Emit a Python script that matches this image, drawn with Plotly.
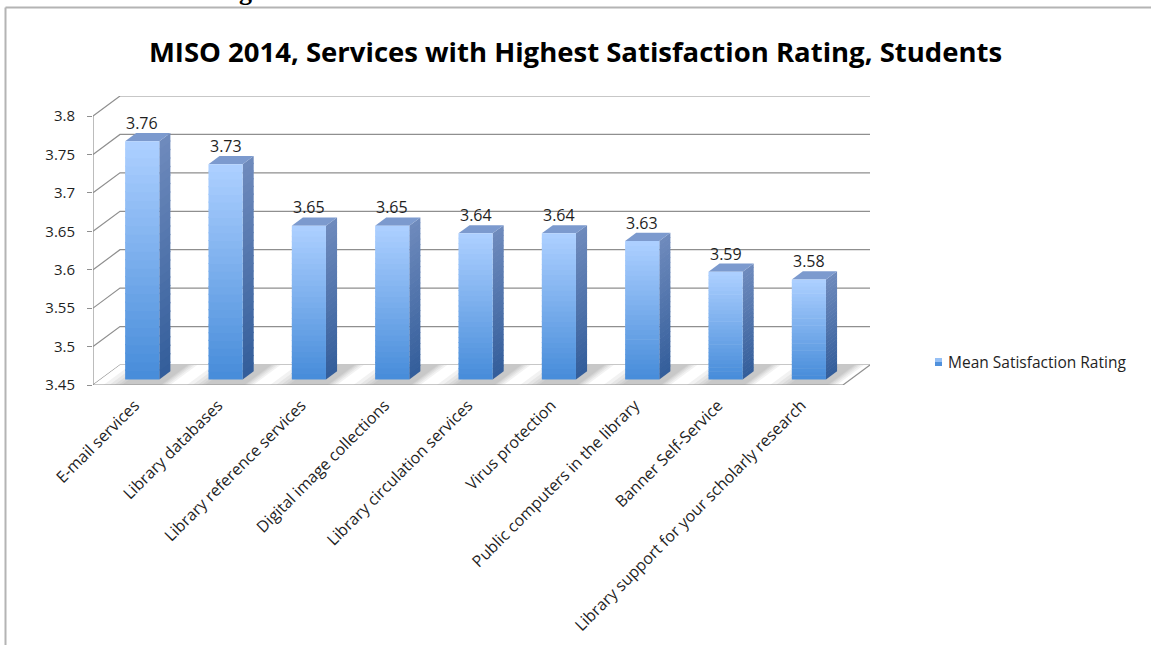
import plotly.graph_objects as go

# ---- data -------------------------------------------------------------
categories = [
    "E-mail services",
    "Library databases",
    "Library reference services",
    "Digital image collections",
    "Library circulation services",
    "Virus protection",
    "Public computers in the library",
    "Banner Self-Service",
    "Library support for your scholarly research",
]
mean_rating = [3.76, 3.73, 3.65, 3.65, 3.64, 3.64, 3.63, 3.59, 3.58]
tick_values = [3.45, 3.5, 3.55, 3.6, 3.65, 3.7, 3.75, 3.8]
tick_text = ["3.45", "3.5", "3.55", "3.6", "3.65", "3.7", "3.75", "3.8"]
series_name = "Mean Satisfaction Rating"
title_text = "MISO 2014, Services with Highest Satisfaction Rating, Students"

# ---- geometry of the pseudo-3D frame ---------------------------------
W, H = 1151, 645
L, R, T, B = 93, 870, 96, 385           # plot area in pixels
Y0, Y1 = tick_values[0], tick_values[-1]
n = len(categories)
px_x = (R - 27 - L) / n                 # pixels per category
px_y = (B - 116) / (Y1 - Y0)            # pixels per rating unit
DX, DY = 27 / px_x, 20 / px_y           # wall depth in data units
X_MIN, X_MAX = -0.5, n - 0.5

FRONT = 0.28                            # depth position of the bar front face
BAR_D = 0.41                            # bar depth as share of wall depth
HALF_W = 0.205                          # half width of a bar
fx, fy = FRONT * DX, FRONT * DY
bx, by = BAR_D * DX, BAR_D * DY

GRID = "#8f8f8f"
TEXT = "#1f1f1f"
FONT = "Open Sans"


def mix(c0, c1, t):
    return "rgb(%d,%d,%d)" % tuple(round(a + (b - a) * t) for a, b in zip(c0, c1))


def px2paper_x(px):
    return (px - L) / (R - L)


def px2paper_y(py):
    return (B - py) / (B - T)


shapes = []

# back wall grid lines with their diagonal run to the front axis
for v in tick_values:
    shapes.append(dict(type="path", xref="x", yref="y", layer="below",
                       path=f"M{X_MIN},{v} L{X_MIN + DX},{v + DY} L{X_MAX + DX},{v + DY}",
                       line=dict(color=GRID, width=1.2)))

# floor
floor_path = (f"M{X_MIN},{Y0} L{X_MAX},{Y0} L{X_MAX + DX},{Y0 + DY} "
              f"L{X_MIN + DX},{Y0 + DY} Z")
shapes.append(dict(type="path", xref="x", yref="y", layer="below", path=floor_path,
                   fillcolor="white", line=dict(width=0)))
shapes.append(dict(type="line", xref="x", yref="y", layer="below",
                   x0=X_MAX, y0=Y0, x1=X_MAX + DX, y1=Y0 + DY,
                   line=dict(color=GRID, width=1.2)))

# soft shadows on the floor around each bar base
for i in range(n):
    c = i + fx
    for spread in [0.26, 0.19, 0.13, 0.08, 0.04]:
        xa, xb = c - HALF_W - spread, c + HALF_W + spread * 0.5
        shapes.append(dict(type="path", xref="x", yref="y", layer="below",
                           path=(f"M{xa},{Y0} L{xb},{Y0} L{xb + DX},{Y0 + DY} "
                                 f"L{xa + DX},{Y0 + DY} Z"),
                           fillcolor="rgba(110,110,110,0.09)", line=dict(width=0)))

# front axis lines and category boundary ticks
shapes.append(dict(type="line", xref="x", yref="y", x0=X_MIN, y0=Y0, x1=X_MAX, y1=Y0,
                   line=dict(color=GRID, width=1.2)))
shapes.append(dict(type="line", xref="x", yref="y", x0=X_MIN, y0=Y0, x1=X_MIN, y1=Y1,
                   line=dict(color=GRID, width=1.2)))
for i in range(n + 1):
    shapes.append(dict(type="line", xref="x", yref="y", ysizemode="pixel", yanchor=Y0,
                       x0=X_MIN + i, x1=X_MIN + i, y0=0, y1=-5,
                       line=dict(color=GRID, width=1.2)))

# bar sides (gradient slices) and tops
N = 28
side_lo, side_hi = (52, 94, 155), (110, 138, 188)
for i, v in enumerate(mean_rating):
    c = i + fx
    xr = c + HALF_W
    ya, yb = Y0 + fy, v + fy
    for k in range(N):
        s0 = ya + (yb - ya) * k / N
        s1 = min(ya + (yb - ya) * (k + 1.15) / N, yb)
        shapes.append(dict(type="path", xref="x", yref="y", layer="below",
                           path=(f"M{xr},{s0} L{xr},{s1} L{xr + bx},{s1 + by} "
                                 f"L{xr + bx},{s0 + by} Z"),
                           fillcolor=mix(side_lo, side_hi, k / (N - 1)),
                           line=dict(width=0)))
    xl = c - HALF_W
    shapes.append(dict(type="path", xref="x", yref="y", layer="below",
                       path=(f"M{xl},{yb} L{xr},{yb} L{xr + bx},{yb + by} "
                             f"L{xl + bx},{yb + by} Z"),
                       fillcolor="rgb(124,154,206)", line=dict(width=0)))

# bar fronts as stacked gradient slices
front_lo, front_hi = (72, 141, 218), (172, 207, 255)
xs, bases, heights, colors = [], [], [], []
for i, v in enumerate(mean_rating):
    c = i + fx
    ya, yb = Y0 + fy, v + fy
    h = (yb - ya) / N
    for k in range(N):
        xs.append(c)
        bases.append(ya + h * k)
        heights.append(h * 1.15 if k < N - 1 else h)
        colors.append(mix(front_lo, front_hi, k / (N - 1)))

fig = go.Figure()
fig.add_trace(go.Bar(x=xs, y=heights, base=bases, width=2 * HALF_W,
                     marker=dict(color=colors, line=dict(width=0)),
                     showlegend=False, hoverinfo="skip"))
# category axis carrier (labels at bar centres)
fig.add_trace(go.Scatter(x=list(range(n)), y=[Y0] * n, mode="markers",
                         marker=dict(opacity=0), showlegend=False, hoverinfo="skip"))

annotations = []
for i, v in enumerate(mean_rating):
    annotations.append(dict(x=i + fx, y=v + fy + by, xref="x", yref="y",
                            text=f"{v:.2f}", showarrow=False, yanchor="middle",
                            yshift=10, font=dict(family=FONT, size=16, color=TEXT)))

# legend swatch and label
shapes.append(dict(type="rect", xref="paper", yref="paper",
                   x0=px2paper_x(935), x1=px2paper_x(942),
                   y0=px2paper_y(366), y1=px2paper_y(362),
                   fillcolor="rgb(80,145,220)", line=dict(width=0)))
shapes.append(dict(type="rect", xref="paper", yref="paper",
                   x0=px2paper_x(935), x1=px2paper_x(942),
                   y0=px2paper_y(362), y1=px2paper_y(358),
                   fillcolor="rgb(150,192,245)", line=dict(width=0)))
annotations.append(dict(x=px2paper_x(946), y=px2paper_y(362), xref="paper", yref="paper",
                        text=series_name, showarrow=False, xanchor="left", yanchor="middle",
                        font=dict(family=FONT, size=15.5, color=TEXT)))

# heading fragment above the frame
annotations.append(dict(x=px2paper_x(254), y=px2paper_y(-9), xref="paper", yref="paper",
                        text="Rating", showarrow=False, xanchor="right", yanchor="middle",
                        font=dict(family="Liberation Serif", size=26, color="black",
                                  weight="bold")))

# outer frame
shapes.append(dict(type="line", xref="paper", yref="paper",
                   x0=px2paper_x(5.5), x1=px2paper_x(5.5),
                   y0=px2paper_y(7.5), y1=px2paper_y(650),
                   line=dict(color="#b4b4b4", width=2)))
shapes.append(dict(type="line", xref="paper", yref="paper",
                   x0=px2paper_x(5.5), x1=px2paper_x(1151),
                   y0=px2paper_y(7.5), y1=px2paper_y(7.5),
                   line=dict(color="#b4b4b4", width=2)))

fig.update_layout(
    width=W, height=H, autosize=False,
    margin=dict(l=L, r=W - R, t=T, b=H - B, pad=0, autoexpand=False),
    paper_bgcolor="white", plot_bgcolor="rgba(0,0,0,0)",
    barmode="overlay",
    title=dict(text=f"<b>{title_text}</b>", x=0.5, xanchor="center",
               y=1 - 52 / H, yanchor="middle", yref="container", automargin=False,
               font=dict(family=FONT, size=27.5, color="black")),
    xaxis=dict(range=[X_MIN, X_MAX + DX], showgrid=False, zeroline=False,
               showline=False, tickmode="array", tickvals=list(range(n)),
               ticktext=categories, tickangle=-45, ticks="", automargin=False,
               ticklabelstandoff=7,
               tickfont=dict(family=FONT, size=16, color=TEXT), fixedrange=True),
    yaxis=dict(range=[Y0, Y1 + DY], showgrid=False, zeroline=False, showline=False,
               tickmode="array", tickvals=tick_values, ticktext=tick_text,
               ticks="outside", ticklen=5, tickcolor=GRID, tickwidth=1.2,
               ticklabelstandoff=9, automargin=False,
               tickfont=dict(family=FONT, size=15, color=TEXT), fixedrange=True),
    shapes=shapes, annotations=annotations, showlegend=False,
)

fig.write_html("out.html")
